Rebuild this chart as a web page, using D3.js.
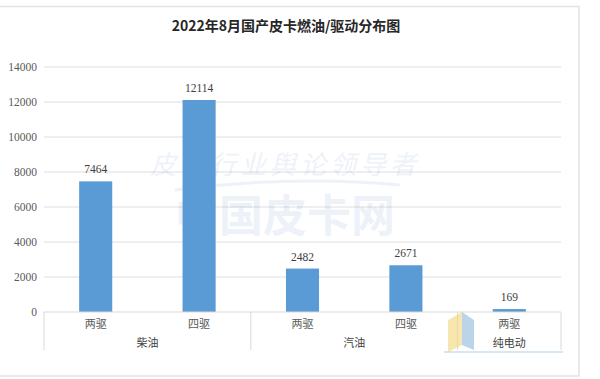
<!DOCTYPE html>
<html><head><meta charset="utf-8">
<script src="https://cdn.jsdelivr.net/npm/d3@7"></script>
<style>body{margin:0;background:#fff}svg{display:block}</style>
</head><body>
<svg id="c" width="600" height="379"></svg>
<script>
const categories = ["两驱","四驱","两驱","四驱","两驱"];
const groups = ["柴油","柴油","汽油","汽油","纯电动"];
const groupNames = ["柴油","汽油","纯电动"];
const values = [7464,12114,2482,2671,169];
const yTicks = [0,2000,4000,6000,8000,10000,12000,14000];
const title = "2022年8月国产皮卡燃油/驱动分布图";

(function(){
const svg = d3.select("#c");
const serif = "'Liberation Serif','Times New Roman','DejaVu Serif',serif";
const cjk = "'Noto Sans CJK SC',sans-serif";

// frame
svg.append("rect").attr("x",-1).attr("y",6.5).attr("width",580).attr("height",369.5)
  .attr("fill","#fff").attr("stroke","#e3e3e3").attr("stroke-width",1.5);

const pL=44, pR=561, pT=67, pB=312;
const x = d3.scaleBand().domain(d3.range(values.length)).range([pL,pR]).paddingInner(0.68).paddingOuter(0.34);
const y = d3.scaleLinear().domain([0,14000]).range([pB,pT]);

// gridlines
svg.append("g").selectAll("line").data(yTicks.slice(1)).join("line")
  .attr("x1",pL).attr("x2",pR).attr("y1",d=>y(d)).attr("y2",d=>y(d))
  .attr("stroke","#dedede").attr("stroke-width",1);

// faint background watermark (decorative)
const wm = svg.append("g").attr("opacity",0.08);
wm.append("text").attr("x",285).attr("y",174).attr("text-anchor","middle")
  .attr("font-family",cjk).attr("font-size",26).attr("fill","#2a64b8").attr("font-style","italic")
  .attr("letter-spacing",4).text("皮卡行业舆论领导者");
wm.append("path").attr("d","M175,190 Q290,175 400,185").attr("stroke","#2a64b8").attr("stroke-width",3).attr("fill","none");
wm.append("text").attr("x",285).attr("y",232).attr("text-anchor","middle")
  .attr("font-family",cjk).attr("font-weight","bold").attr("font-size",44).attr("fill","#2a64b8")
  .text("中国皮卡网");

// y axis labels
svg.append("g").selectAll("text").data(yTicks).join("text")
  .attr("x",37).attr("y",d=>y(d)+4).attr("text-anchor","end")
  .attr("font-family",serif).attr("font-size",11.5).attr("fill","#595959").text(d=>d);

// bars
svg.append("g").selectAll("rect").data(values).join("rect")
  .attr("x",(d,i)=>x(i)).attr("width",x.bandwidth())
  .attr("y",d=>y(d)).attr("height",d=>pB-y(d)).attr("fill","#5b9bd5");

// value labels
svg.append("g").selectAll("text").data(values).join("text")
  .attr("x",(d,i)=>x(i)+x.bandwidth()/2).attr("y",d=>y(d)-8).attr("text-anchor","middle")
  .attr("font-family",serif).attr("font-size",11.5).attr("fill","#404040").text(d=>d);

// axis line
svg.append("line").attr("x1",pL).attr("x2",pR).attr("y1",pB).attr("y2",pB)
  .attr("stroke","#d9d9d9").attr("stroke-width",1);

// group separators
const bounds = [0];
groups.forEach((g,i)=>{ if(i>0 && g!==groups[i-1]) bounds.push(i); });
bounds.push(groups.length);
const bx = i => pL+i*(pR-pL)/values.length;
svg.append("g").selectAll("line").data(bounds).join("line")
  .attr("x1",bx).attr("x2",bx)
  .attr("y1",pB).attr("y2",350).attr("stroke","#d9d9d9").attr("stroke-width",1);

// category labels
svg.append("g").selectAll("text").data(categories).join("text")
  .attr("x",(d,i)=>x(i)+x.bandwidth()/2).attr("y",328).attr("text-anchor","middle")
  .attr("font-family",cjk).attr("font-size",11).attr("fill","#595959").text(d=>d);

// group labels
const gdata = groupNames.map(g=>{
  const idx = groups.map((v,i)=>v===g?i:-1).filter(i=>i>=0);
  const a = idx[0], b = idx[idx.length-1]+1;
  return {name:g, cx:(bx(a)+bx(b))/2};
});
svg.append("g").selectAll("text").data(gdata).join("text")
  .attr("x",d=>d.cx).attr("y",347).attr("text-anchor","middle")
  .attr("font-family",cjk).attr("font-size",11).attr("fill","#404040").text(d=>d.name);

// title
svg.append("text").attr("x",286).attr("y",31).attr("text-anchor","middle")
  .attr("font-family",cjk).attr("font-weight","bold").attr("font-size",14).attr("fill","#262626").text(title);

// corner logo (decorative shapes only)
const lg = svg.append("g").attr("opacity",0.6);
lg.append("path").attr("d","M448,320 L462,312 L462,345 L448,352 Z").attr("fill","#f3d77a");
lg.append("path").attr("d","M462,312 L474,320 L474,350 L462,345 Z").attr("fill","#8fb8d8");
lg.append("line").attr("x1",444).attr("x2",563).attr("y1",352).attr("y2",352).attr("stroke","#7fb0d0").attr("stroke-width",1);
})();
</script>
</body></html>
